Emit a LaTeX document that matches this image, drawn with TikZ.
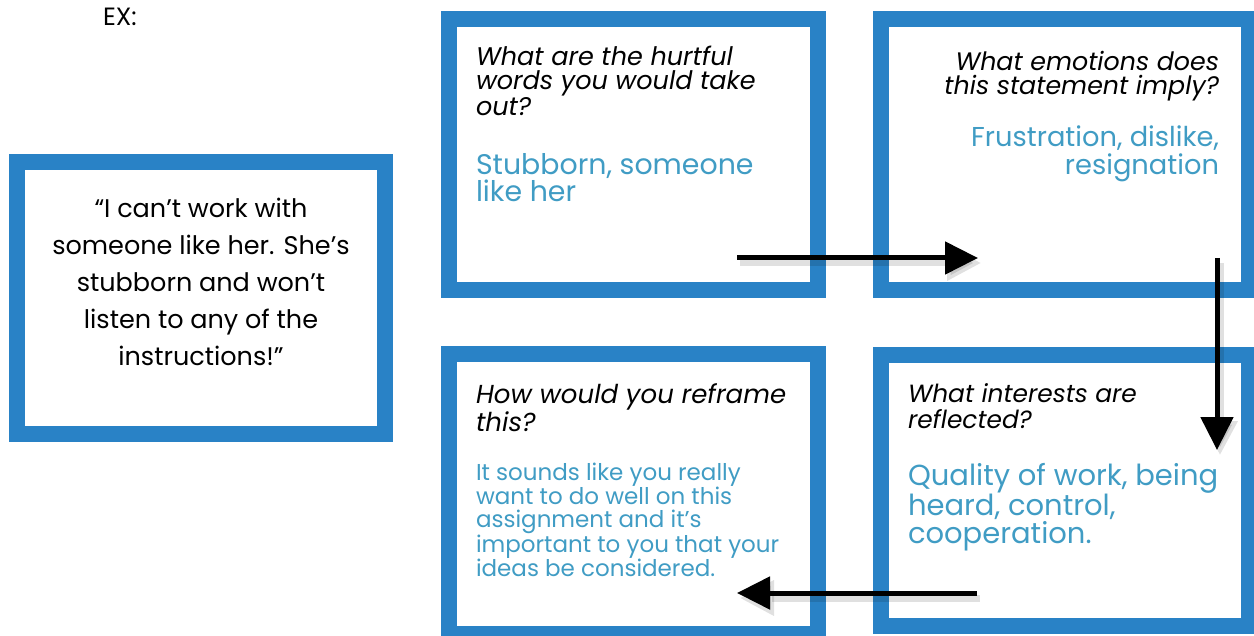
\documentclass[tikz,border=0pt]{standalone}
\usepackage{fontspec}
\setmainfont{Poppins}
\usetikzlibrary{arrows.meta}
\definecolor{boxblue}{RGB}{41,130,198}
\definecolor{ansblue}{RGB}{64,156,196}
\newcommand{\fs}[2]{\fontsize{#1bp}{#2bp}\selectfont}
\tikzset{
  frame/.style={draw=boxblue, line width=16bp},
  txt/.style={inner sep=0pt, outer sep=0pt},
  ques/.style={txt, anchor=north west, align=left},
  quesr/.style={txt, anchor=north east, align=right},
  ans/.style={txt, anchor=north west, align=left, text=ansblue},
  ansr/.style={txt, anchor=north east, align=right, text=ansblue},
  flow/.style={line width=5bp, -{Triangle[length=33bp,width=32bp]}},
  flowshadow/.style={line width=7bp, black, opacity=0.12, -{Triangle[length=34bp,width=34bp]}}
}
\begin{document}
\begin{tikzpicture}[x=1bp,y=-1bp]
\useasboundingbox (0,0) rectangle (1254,636);
% boxes
\draw[frame] (17,162) rectangle (385,434);
\draw[frame] (449,19) rectangle (818,290);
\draw[frame] (881,19) rectangle (1249,290);
\draw[frame] (449,354) rectangle (818,634);
\draw[frame] (881,355) rectangle (1249,626);
% texts
\node[txt, anchor=north west, font=\fs{25}{25}] (ex) at (103,8) {EX:};
\node[txt, anchor=north, align=center, font=\fs{25.5}{37}] (quote) at (201,198)
  {“I can’t work with\\someone like her. She’s\\stubborn and won’t\\listen to any of the\\instructions!”};
\node[ques, font=\fs{25.5}{24.5}\itshape] (q1) at (476,46) {What are the hurtful\\words you would take\\out?};
\node[ans, font=\fs{28.4}{27}] (a1) at (476,153) {Stubborn, someone\\like her};
\node[quesr, font=\fs{25.3}{24.5}\itshape] (q2) at (1219,51) {What emotions does\\this statement imply?};
\node[ansr, font=\fs{27.3}{28}] (a2) at (1219,126) {Frustration, dislike,\\resignation};
\node[ques, font=\fs{26}{26}\itshape] (q3) at (476,384) {How would you reframe\\this?};
\node[ans, font=\fs{23}{23.7}] (a3) at (476,463) {It sounds like you really\\want to do well on this\\assignment and it’s\\important to you that your\\ideas be considered.};
\node[ques, font=\fs{24.9}{26}\itshape] (q4) at (908,384) {What interests are\\reflected?};
\node[ans, font=\fs{29}{28}] (a4) at (908,463) {Quality of work, being\\heard, control,\\cooperation.};
% arrow endpoints
\coordinate (r1s) at (737,258);
\coordinate (r1e) at (978,258);
\coordinate (r2s) at (1217,258);
\coordinate (r2e) at (1217,450);
\coordinate (r3s) at (977,593);
\coordinate (r3e) at (737,593);
% shadows
\foreach \s/\e in {r1s/r1e, r2s/r2e, r3s/r3e}
  \draw[flowshadow] ([shift={(3,5)}]\s) -- ([shift={(3,5)}]\e);
% arrows
\draw[flow] (r1s) -- (r1e);
\draw[flow] (r2s) -- (r2e);
\draw[flow] (r3s) -- (r3e);
\end{tikzpicture}
\end{document}
